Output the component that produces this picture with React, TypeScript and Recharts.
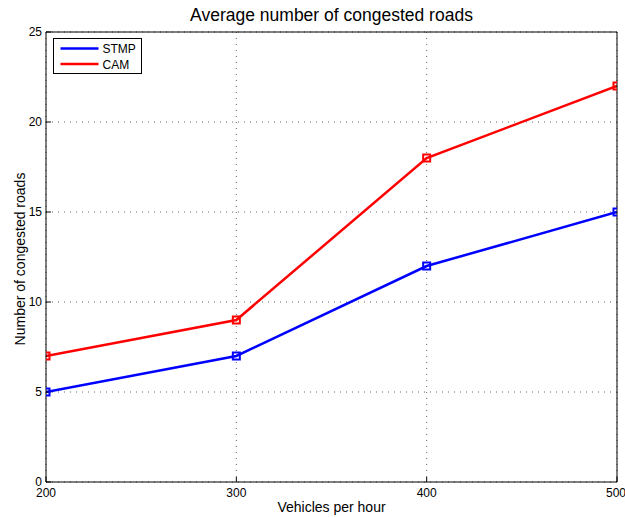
import React from 'react';
import { LineChart, Line, XAxis, YAxis, CartesianGrid, Legend } from 'recharts';

const vehicles = [200, 300, 400, 500];
const stmpValues = [5, 7, 12, 15];
const camValues = [7, 9, 18, 22];
const xTicks = [200, 300, 400, 500];
const yTicks = [0, 5, 10, 15, 20, 25];
const seriesNames = ['STMP', 'CAM'];
const titleText = 'Average number of congested roads';
const xLabelText = 'Vehicles per hour';
const yLabelText = 'Number of congested roads';

const data = vehicles.map((v, i) => ({ v, stmp: stmpValues[i], cam: camValues[i] }));

const FONT = '"Liberation Sans", Arial, Helvetica, sans-serif';

const SquareDot = (props: any) => {
  const { cx, cy, stroke, key } = props;
  if (cx == null || cy == null) return <g key={key} />;
  return (
    <rect key={key} x={cx - 3.5} y={cy - 3.5} width={7} height={7} fill="none" stroke={stroke} strokeWidth={2} />
  );
};

const TitleLabel = (props: any) => {
  const vb = props.viewBox || {};
  return (
    <text x={vb.x + vb.width / 2} y={vb.y - 10} textAnchor="middle" fontSize={17.5} fontFamily={FONT} fill="#000">
      {titleText}
    </text>
  );
};

const XLabel = (props: any) => {
  const vb = props.viewBox || {};
  return (
    <text x={vb.x + vb.width / 2} y={vb.y + 30} textAnchor="middle" fontSize={14} fontFamily={FONT} fill="#000">
      {xLabelText}
    </text>
  );
};

const YLabel = (props: any) => {
  const vb = props.viewBox || {};
  const cx = vb.x + 24.5;
  const cy = vb.y + vb.height / 2 + 2;
  return (
    <text x={cx} y={cy} transform={`rotate(-90 ${cx} ${cy})`} textAnchor="middle" fontSize={14} fontFamily={FONT} fill="#000">
      {yLabelText}
    </text>
  );
};

const LegendBox = (props: any) => {
  const payload = [...(props.payload || [])].sort(
    (a: any, b: any) => seriesNames.indexOf(a.value) - seriesNames.indexOf(b.value)
  );
  return (
    <div style={{ width: 89, height: 36, boxSizing: 'border-box', border: '1px solid #000', background: '#fff' }}>
      <svg width={87} height={34} style={{ display: 'block' }}>
        {payload.map((e: any, i: number) => (
          <g key={e.value}>
            <line x1={6.5} x2={44.5} y1={9.5 + i * 15.5} y2={9.5 + i * 15.5} stroke={e.color} strokeWidth={2.5} />
            <text x={48.5} y={14 + i * 15.7} fontSize={12} fontFamily={FONT} fill="#000">
              {e.value}
            </text>
          </g>
        ))}
      </svg>
    </div>
  );
};

export default function App() {
  return (
    <div style={{ position: 'absolute', left: 0, top: 0, background: '#fff' }}>
      <LineChart width={625} height={518} data={data} margin={{ top: 31, right: 7, bottom: 0, left: 0 }}>
        <CartesianGrid stroke="#666" strokeDasharray="1 5" />
        <XAxis
          dataKey="v"
          type="number"
          domain={[200, 500]}
          ticks={xTicks}
          allowDataOverflow
          height={36}
          tickSize={-5}
          tickMargin={11.5}
          stroke="#000"
          tick={{ fill: '#000', fontSize: 12, fontFamily: FONT }}
          label={<XLabel />}
        />
        <XAxis
          xAxisId="top"
          orientation="top"
          type="number"
          domain={[200, 500]}
          ticks={xTicks}
          allowDataOverflow
          height={1}
          tickSize={-5}
          stroke="#000"
          tick={false}
          label={<TitleLabel />}
        />
        <YAxis
          type="number"
          domain={[0, 25]}
          ticks={yTicks}
          allowDataOverflow
          width={46}
          tickSize={-5}
          tickMargin={9}
          stroke="#000"
          tick={{ fill: '#000', fontSize: 12, fontFamily: FONT }}
          label={<YLabel />}
        />
        <YAxis
          yAxisId="right"
          orientation="right"
          type="number"
          domain={[0, 25]}
          ticks={yTicks}
          allowDataOverflow
          width={1}
          tickSize={-5}
          stroke="#000"
          tick={false}
        />
        <Legend
          layout="vertical"
          align="center"
          verticalAlign="middle"
          wrapperStyle={{ position: 'absolute', left: 53, top: 38, width: 89, height: 36 }}
          content={<LegendBox />}
        />
        <Line
          type="linear"
          dataKey="stmp"
          name={seriesNames[0]}
          stroke="#0000ff"
          strokeWidth={2.5}
          dot={SquareDot}
          activeDot={false}
          isAnimationActive={false}
        />
        <Line
          type="linear"
          dataKey="cam"
          name={seriesNames[1]}
          stroke="#ff0000"
          strokeWidth={2.5}
          dot={SquareDot}
          activeDot={false}
          isAnimationActive={false}
        />
      </LineChart>
    </div>
  );
}
